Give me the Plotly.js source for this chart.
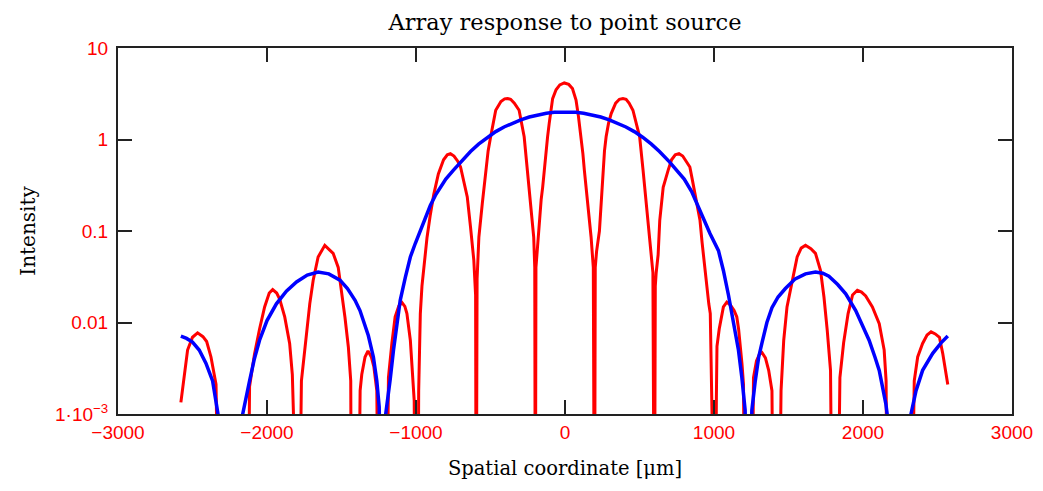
<!DOCTYPE html>
<html>
<head>
<meta charset="utf-8">
<script src="https://cdn.plot.ly/plotly-3.0.1.min.js"></script>
<style>html,body{margin:0;padding:0;background:#fff;}#chart{width:1043px;height:491px;}</style>
</head>
<body>
<div id="chart"></div>
<script>
// Values. 1e-5 marks a point that dips below the plotted range (a null).
const redX = [
  -2578, -2555, -2533, -2500, -2466, -2430, -2405, -2376, -2342, -2320,
  -2130, -2117, -2084, -2050, -2016, -1985, -1962, -1935, -1915, -1881, -1848, -1830, -1815,
  -1787, -1769, -1753, -1735, -1713, -1690, -1657, -1612, -1556, -1522, -1499, -1477, -1454, -1438, -1432,
  -1390, -1375, -1364, -1342, -1322, -1300, -1283, -1263, -1250,
  -1198, -1185, -1162, -1140, -1115, -1094, -1075, -1061, -1038, -1022, -1012, -1004,
  -988, -982, -971, -960, -945, -926, -904, -881, -850, -815, -790, -769, -745, -720, -701, -678, -656, -634, -612, -600, -596,
  -590, -578, -555, -533, -516, -499, -465, -430, -405, -386, -365, -340, -308, -274, -252, -229, -210, -203, -199,
  -195, -185, -173, -160, -150, -140, -128, -117, -106, -95, -83, -60, -35, -5, 25, 50, 74, 90, 108, 120, 130, 153, 175, 190, 198,
  203, 212, 231, 243, 254, 265, 276, 292, 310, 340, 365, 389, 410, 430, 456, 478, 501, 524, 546, 568, 590, 600,
  606, 612, 625, 636, 659, 692, 715, 740, 765, 790, 815, 838, 855, 872, 890, 906, 920, 935, 950, 965, 975, 984, 994,
  1008, 1016, 1020, 1035, 1050, 1063, 1086, 1110, 1135, 1153, 1165, 1175, 1188, 1198, 1208,
  1252, 1265, 1285, 1305, 1322, 1345, 1367, 1389, 1400,
  1434, 1450, 1460, 1468, 1490, 1524, 1558, 1585, 1614, 1650, 1681, 1715, 1738, 1760, 1782, 1796,
  1827, 1845, 1870, 1900, 1930, 1962, 1990, 2018, 2063, 2109, 2142, 2155, 2164,
  2322, 2344, 2367, 2400, 2430, 2457, 2485, 2513, 2535, 2558, 2569
];
const redY = [
  0.00134, 0.0025, 0.005, 0.0069, 0.0077, 0.007, 0.0062, 0.0042, 0.0021, 1e-5,
  1e-5, 0.002, 0.0045, 0.0085, 0.0148, 0.021, 0.0229, 0.021, 0.018, 0.0115, 0.0059, 0.0027, 1e-5,
  1e-5, 0.0023, 0.0042, 0.0082, 0.016, 0.029, 0.052, 0.0697, 0.057, 0.04, 0.0225, 0.0115, 0.0054, 0.0023, 1e-5,
  1e-5, 0.0018, 0.0027, 0.0042, 0.0049, 0.0042, 0.0033, 0.0018, 1e-5,
  1e-5, 0.0025, 0.0059, 0.0115, 0.0152, 0.0165, 0.015, 0.0125, 0.0064, 0.0027, 0.0014, 1e-5,
  1e-5, 0.0018, 0.0125, 0.025, 0.045, 0.085, 0.15, 0.25, 0.42, 0.6, 0.68, 0.70, 0.66, 0.58, 0.50, 0.34, 0.236, 0.11, 0.048, 0.02, 1e-5,
  0.03, 0.086, 0.20, 0.46, 0.75, 1.07, 2.09, 2.6, 2.78, 2.81, 2.75, 2.5, 2.09, 1.07, 0.46, 0.20, 0.086, 0.04, 1e-5,
  0.04, 0.07, 0.12, 0.22, 0.30, 0.46, 0.75, 1.07, 1.5, 2.2, 2.8, 3.5, 3.95, 4.15, 4.0, 3.6, 2.7, 1.8, 1.07, 0.7, 0.46, 0.20, 0.086, 0.04, 1e-5,
  0.04, 0.06, 0.1, 0.20, 0.46, 0.75, 1.07, 1.5, 1.92, 2.5, 2.75, 2.81, 2.75, 2.5, 2.09, 1.5, 1.07, 0.46, 0.20, 0.086, 0.035, 1e-5,
  0.025, 0.035, 0.055, 0.131, 0.30, 0.46, 0.6, 0.68, 0.70, 0.66, 0.58, 0.50, 0.36, 0.256, 0.18, 0.131, 0.075, 0.042, 0.025, 0.016, 0.0125, 0.002, 1e-5,
  1e-5, 0.0015, 0.0055, 0.0085, 0.012, 0.0148, 0.0167, 0.0155, 0.0135, 0.0115, 0.0085, 0.0059, 0.0035, 0.0021, 1e-5,
  1e-5, 0.0025, 0.0038, 0.0045, 0.0047, 0.0041, 0.003, 0.0018, 1e-5,
  1e-5, 0.0018, 0.0035, 0.0064, 0.0148, 0.029, 0.052, 0.065, 0.0697, 0.064, 0.057, 0.037, 0.019, 0.0082, 0.003, 1e-5,
  1e-5, 0.0025, 0.006, 0.0125, 0.02, 0.0225, 0.0215, 0.0195, 0.0148, 0.0097, 0.005, 0.0023, 1e-5,
  1e-5, 0.0023, 0.0042, 0.0059, 0.0073, 0.0079, 0.0075, 0.0069, 0.0046, 0.0025, 0.0021
];
const blueX = [
  -2578, -2540, -2500, -2455, -2410, -2365, -2331, -2320, -2250, -2175,
  -2163, -2140, -2117, -2085, -2050, -2000, -1937, -1870, -1802, -1730, -1657, -1585, -1510, -1460, -1409, -1376, -1345, -1320, -1286, -1263, -1247, -1228,
  -1207, -1190, -1173, -1151, -1130, -1106, -1072, -1038, -1005, -971, -935, -904, -870, -836, -800, -750, -701, -634, -580, -521, -465, -409, -350, -297, -240, -184, -125, -72, 0,
  72, 125, 184, 240, 297, 350, 409, 465, 521, 580, 634, 701, 750, 800, 850, 917, 973, 1030, 1063, 1097, 1131, 1164, 1187, 1209, 1228,
  1254, 1277, 1300, 1322, 1355, 1389, 1430, 1479, 1545, 1614, 1681, 1730, 1771, 1830, 1884, 1951, 2000, 2041, 2080, 2109, 2153, 2170, 2240, 2310,
  2322, 2356, 2400, 2468, 2524, 2569
];
const blueY = [
  0.0071, 0.0067, 0.0061, 0.005, 0.0036, 0.0023, 0.00105, 0.0008, 1e-5, 0.0008,
  0.001, 0.0016, 0.0023, 0.004, 0.0064, 0.0105, 0.016, 0.022, 0.0277, 0.033, 0.0356, 0.034, 0.029, 0.0235, 0.0175, 0.0135, 0.0098, 0.0072, 0.0042, 0.0023, 0.0012, 1e-5,
  0.0009, 0.0014, 0.0024, 0.005, 0.0095, 0.0175, 0.031, 0.052, 0.073, 0.10, 0.145, 0.19, 0.245, 0.30, 0.37, 0.46, 0.57, 0.74, 0.89, 1.06, 1.22, 1.37, 1.52, 1.64, 1.76, 1.86, 1.94, 1.98, 2.0,
  1.98, 1.94, 1.86, 1.76, 1.64, 1.52, 1.37, 1.22, 1.06, 0.89, 0.74, 0.57, 0.46, 0.37, 0.27, 0.15, 0.094, 0.061, 0.037, 0.02, 0.0097, 0.005, 0.0025, 0.0011, 1e-5,
  0.0011, 0.0023, 0.0042, 0.006, 0.010, 0.0145, 0.019, 0.0235, 0.03, 0.034, 0.0356, 0.0345, 0.032, 0.026, 0.0206, 0.0135, 0.0092, 0.0064, 0.0042, 0.003, 0.0013, 0.0008, 1e-5, 0.0008,
  0.001, 0.0018, 0.003, 0.0046, 0.006, 0.0071
];
const xTickVals = [-3000, -2000, -1000, 0, 1000, 2000, 3000];
const xTickText = ['\u22123000', '\u22122000', '\u22121000', '0', '1000', '2000', '3000'];
const yTickVals = [0.001, 0.01, 0.1, 1, 10];
const yTickText = ['1\u00b710<sup>\u22123</sup>', '0.01', '0.1', '1', '10'];

const serif = 'DejaVu Serif, Liberation Serif, serif';
const sans = 'Liberation Sans, Arial, sans-serif';

const traces = [
  {x: redX, y: redY, type: 'scatter', mode: 'lines', line: {color: '#ff0000', width: 3}, hoverinfo: 'skip'},
  {x: blueX, y: blueY, type: 'scatter', mode: 'lines', line: {color: '#0000ff', width: 3.5}, hoverinfo: 'skip'}
];
const layout = {
  width: 1043, height: 491,
  margin: {l: 118, r: 31, t: 48, b: 77},
  paper_bgcolor: '#fff', plot_bgcolor: '#fff',
  showlegend: false,
  title: {text: 'Array response to point source', font: {family: serif, size: 22.5, color: '#000'},
          x: 0.5, xanchor: 'center', y: 0.955, yanchor: 'middle', xref: 'paper', yref: 'container'},
  xaxis: {
    range: [-3000, 3000], tickvals: xTickVals, ticktext: xTickText,
    showline: true, linecolor: '#222', linewidth: 2, mirror: 'ticks',
    ticks: 'inside', ticklen: 14, tickwidth: 2, tickcolor: '#222',
    showgrid: false, zeroline: false,
    tickfont: {family: sans, size: 19, color: '#ff0000'},
    title: {text: 'Spatial coordinate [\u03bcm]', font: {family: serif, size: 19.5, color: '#000'}, standoff: 20}
  },
  yaxis: {
    type: 'log', range: [-3, 1], tickvals: yTickVals, ticktext: yTickText,
    showline: true, linecolor: '#222', linewidth: 2, mirror: 'ticks',
    ticks: 'inside', ticklen: 14, tickwidth: 2, tickcolor: '#222',
    showgrid: false, zeroline: false, ticklabelstandoff: 4,
    tickfont: {family: sans, size: 19, color: '#ff0000'},
    title: {text: 'Intensity', font: {family: serif, size: 20, color: '#000'}, standoff: 14}
  }
};
Plotly.newPlot('chart', traces, layout, {staticPlot: true, displayModeBar: false});
</script>
</body>
</html>
